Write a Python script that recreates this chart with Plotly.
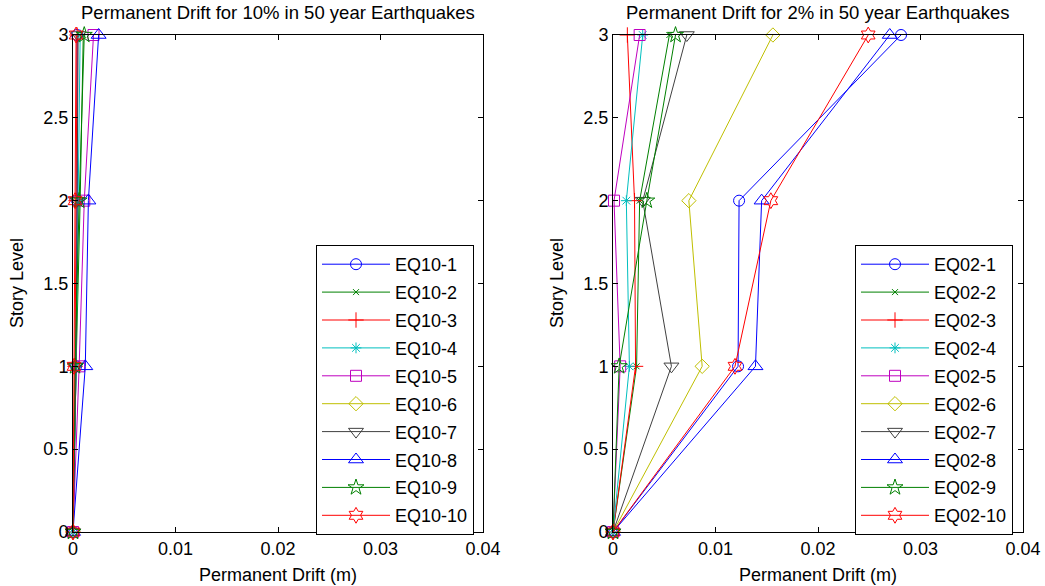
import plotly.graph_objects as go

levels = [0, 1, 2, 3]
names10 = [f"EQ10-{i}" for i in range(1, 11)]
names02 = [f"EQ02-{i}" for i in range(1, 11)]

# drift values at story levels 0,1,2,3 (m)
drift10 = [
    [0, 0.0003, 0.0004, 0.0004],
    [0, 0.0003, 0.0007, 0.0010],
    [0, 0.0002, 0.0003, 0.0004],
    [0, 0.0003, 0.0005, 0.0007],
    [0, 0.0006, 0.0011, 0.0020],
    [0, -0.0001, -0.0001, -0.0001],
    [0, 0.0003, 0.0004, 0.0005],
    [0, 0.0012, 0.0015, 0.0025],
    [0, 0.0002, 0.0006, 0.0011],
    [0, 0.0001, 0.0002, 0.0003],
]
drift02 = [
    [0, 0.0122, 0.0123, 0.0281],
    [0, 0.0023, 0.0026, 0.0055],
    [0, 0.0022, 0.0021, 0.0014],
    [0, 0.0016, 0.0013, 0.0029],
    [0, 0.0007, 0.0001, 0.0026],
    [0, 0.0087, 0.0074, 0.0156],
    [0, 0.0057, 0.0029, 0.0072],
    [0, 0.0139, 0.0145, 0.0270],
    [0, 0.0006, 0.0033, 0.0061],
    [0, 0.0119, 0.0154, 0.0249],
]

titles = ["Permanent Drift for 10% in 50 year Earthquakes",
          "Permanent Drift for 2% in 50 year Earthquakes"]
xtitle = "Permanent Drift (m)"
ytitle = "Story Level"

colors = ["#0000FF", "#008000", "#FF0000", "#00BFBF", "#BF00BF",
          "#BFBF00", "#404040", "#0000FF", "#008000", "#FF0000"]
symbols = ["circle-open", "x-thin-open", "cross-thin-open", "asterisk-open",
           "square-open", "diamond-open", "triangle-down-open",
           "triangle-up-open", "star-open", "hexagram-open"]
sizes = [11, 6, 11, 9, 11, 11, 13, 13, 12, 12]

xticks = [0, 0.01, 0.02, 0.03, 0.04]
xticklabels = ["0", "0.01", "0.02", "0.03", "0.04"]
yticks = [0, 0.5, 1, 1.5, 2, 2.5, 3]
yticklabels = ["0", "0.5", "1", "1.5", "2", "2.5", "3"]

FONT = "Liberation Sans, Arial, sans-serif"
TXT = dict(family=FONT, size=18, color="black")
TITLE = dict(family=FONT, size=18.5, color="black")
fig = go.Figure()

for panel, (names, data) in enumerate([(names10, drift10), (names02, drift02)]):
    xa = "x" if panel == 0 else "x2"
    ya = "y" if panel == 0 else "y2"
    lg = "legend" if panel == 0 else "legend2"
    for i, (nm, vals) in enumerate(zip(names, data)):
        fig.add_trace(go.Scatter(
            x=vals, y=levels, name=nm, mode="lines+markers",
            xaxis=xa, yaxis=ya, legend=lg, legendgroup=f"{panel}-{i}",
            line=dict(color=colors[i], width=1),
            marker=dict(symbol=symbols[i], size=sizes[i], color=colors[i],
                        line=dict(width=1, color=colors[i])),
            cliponaxis=False,
        ))

W, H = 1045, 586
def px(x):
    return x / W
def py(y):
    return (H - y) / H

axis_common = dict(
    showline=True, linecolor="black", linewidth=1, mirror="ticks",
    ticks="inside", ticklen=5, tickcolor="black", showgrid=False,
    zeroline=False, tickfont=TXT, automargin=False,
)
xcommon = dict(axis_common, range=[0, 0.04], tickvals=xticks, ticktext=xticklabels)
ycommon = dict(axis_common, range=[0, 3], tickvals=yticks, ticktext=yticklabels)

legend_common = dict(
    bgcolor="white", bordercolor="black", borderwidth=1,
    font=TXT, yanchor="top", xanchor="left", tracegroupgap=1.5, itemwidth=68,
    traceorder="grouped", entrywidth=141, entrywidthmode="pixels",
)

panels = [(73, 483), (613, 1023)]
annotations = []
for (x0, x1), t in zip(panels, titles):
    cx = (x0 + x1) / 2
    annotations.append(dict(text=t, x=px(cx), y=py(13), xref="paper", yref="paper",
                            xanchor="center", yanchor="middle", showarrow=False, font=TITLE))
    annotations.append(dict(text=xtitle, x=px(cx), y=py(575), xref="paper", yref="paper",
                            xanchor="center", yanchor="middle", showarrow=False, font=TXT))
    annotations.append(dict(text=ytitle, x=px(x0 - 56), y=py(283), xref="paper", yref="paper",
                            xanchor="center", yanchor="middle", textangle=-90,
                            showarrow=False, font=TXT))

fig.update_layout(
    width=W, height=H, margin=dict(l=0, r=0, t=0, b=0),
    paper_bgcolor="white", plot_bgcolor="white",
    xaxis=dict(xcommon, domain=[px(73), px(483)], anchor="y"),
    yaxis=dict(ycommon, domain=[py(532), py(35)], anchor="x"),
    xaxis2=dict(xcommon, domain=[px(613), px(1023)], anchor="y2"),
    yaxis2=dict(ycommon, domain=[py(532), py(35)], anchor="x2"),
    legend=dict(legend_common, x=px(316), y=py(245)),
    legend2=dict(legend_common, x=px(855), y=py(245)),
    showlegend=True,
    annotations=annotations,
)

fig.write_html("out.html")
